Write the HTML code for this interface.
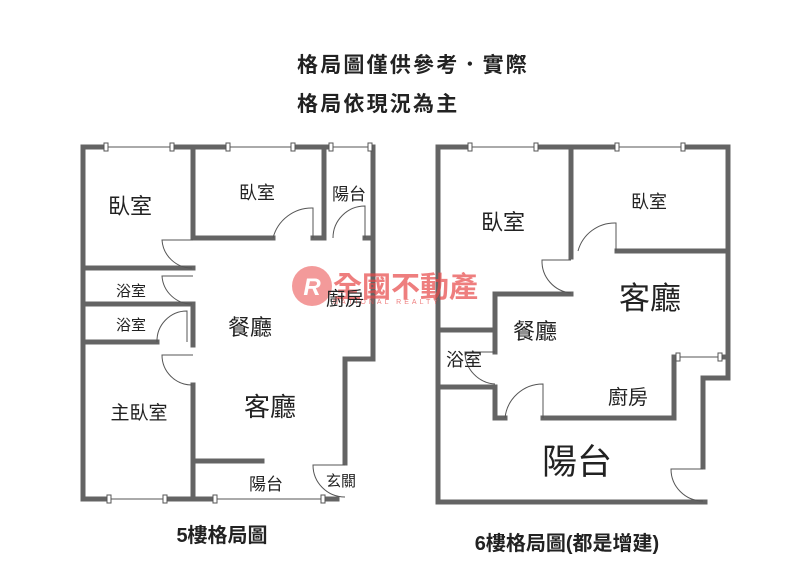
<!DOCTYPE html>
<html><head><meta charset="utf-8"><style>
html,body{margin:0;padding:0;background:#fff;width:797px;height:575px;overflow:hidden}
svg{display:block}
text{font-family:"Liberation Sans","Noto Sans CJK TC",sans-serif;fill:#222}
</style></head><body>
<svg width="797" height="575" viewBox="0 0 797 575" xmlns="http://www.w3.org/2000/svg">
<g font-weight="bold" font-size="21" fill="#222">
<text x="297" y="72" letter-spacing="2.2">格局圖僅供參考．實際</text>
<text x="297" y="111" letter-spacing="2.2">格局依現況為主</text>
<text x="222" y="542" text-anchor="middle" font-size="20">5樓格局圖</text>
<text x="567" y="550" text-anchor="middle" font-size="20">6樓格局圖(都是增建)</text>
</g>

<!-- LEFT PLAN -->
<g stroke="#646464" stroke-width="5" fill="none" stroke-linecap="square">
<polyline points="83,147 83,499 109,499"/>
<line x1="165" y1="499" x2="215" y2="499"/>
<line x1="323" y1="499" x2="337" y2="499"/>
<line x1="83" y1="147" x2="106" y2="147"/>
<line x1="172" y1="147" x2="228" y2="147"/>
<line x1="293" y1="147" x2="331" y2="147"/>
<polyline points="373,147 373,359 345,359 345,463"/>
<line x1="193" y1="147" x2="193" y2="238"/>
<line x1="193" y1="238" x2="273" y2="238"/>
<line x1="313" y1="238" x2="324" y2="238"/>
<line x1="324" y1="147" x2="324" y2="238"/>
<line x1="365" y1="238" x2="373" y2="238"/>
<line x1="83" y1="268" x2="193" y2="268"/>
<line x1="83" y1="304" x2="193" y2="304"/>
<line x1="193" y1="304" x2="193" y2="345"/>
<line x1="83" y1="342" x2="157" y2="342"/>
<line x1="193" y1="385" x2="193" y2="499"/>
<line x1="193" y1="461" x2="262" y2="461"/>
</g>
<g stroke="#555" stroke-width="1" fill="none">
<line x1="106" y1="147" x2="172" y2="147"/>
<line x1="228" y1="147" x2="293" y2="147"/>
<line x1="331" y1="147" x2="370" y2="147"/>
<line x1="109" y1="499" x2="165" y2="499"/>
<line x1="215" y1="499" x2="323" y2="499"/>
<path d="M273,238 A40,40 0 0 1 313,208 L313,238"/>
<path d="M333,238 A32,32 0 0 1 365,206 L365,238"/>
<path d="M193,240 L162,240 A30,30 0 0 0 192,268"/>
<path d="M193,276 L162,276 A30,30 0 0 0 192,304"/>
<path d="M157,342 A30,30 0 0 1 187,311 L187,342"/>
<path d="M193,355 L162,355 A30,30 0 0 0 192,385"/>
<path d="M345,465 L313,465 A32,32 0 0 0 345,497"/>
</g>
<g fill="#fff" stroke="#555" stroke-width="1">
<rect x="104" y="143" width="4" height="8"/><rect x="170" y="143" width="4" height="8"/>
<rect x="226" y="143" width="4" height="8"/><rect x="291" y="143" width="4" height="8"/>
<rect x="329" y="143" width="4" height="8"/><rect x="368" y="143" width="4" height="8"/>
<rect x="107" y="495" width="4" height="8"/><rect x="163" y="495" width="4" height="8"/>
<rect x="213" y="495" width="4" height="8"/><rect x="321" y="495" width="4" height="8"/>
</g>

<!-- RIGHT PLAN -->
<g stroke="#646464" stroke-width="5" fill="none" stroke-linecap="square">
<polyline points="438,147 438,502 705,502"/>
<line x1="438" y1="147" x2="470" y2="147"/>
<line x1="536" y1="147" x2="617" y2="147"/>
<polyline points="683,147 728,147 728,378 703,378 703,467"/>
<line x1="571" y1="147" x2="571" y2="257"/>
<line x1="571" y1="294" x2="495" y2="294"/>
<line x1="495" y1="294" x2="495" y2="352"/>
<line x1="438" y1="330" x2="495" y2="330"/>
<line x1="438" y1="387" x2="495" y2="387"/>
<line x1="495" y1="387" x2="495" y2="418"/>
<line x1="495" y1="418" x2="505" y2="418"/>
<polyline points="543,418 674,418 674,357 677,357"/>
<line x1="720" y1="357" x2="728" y2="357"/>
<line x1="617" y1="251" x2="728" y2="251"/>
</g>
<g stroke="#555" stroke-width="1" fill="none">
<line x1="470" y1="147" x2="536" y2="147"/>
<line x1="617" y1="147" x2="683" y2="147"/>
<line x1="677" y1="357" x2="720" y2="357"/>
<path d="M578,251 A38,38 0 0 1 616,223 L616,251"/>
<path d="M571,260 L542,260 A32,32 0 0 0 571,293"/>
<path d="M495,352 L465,352 A32,32 0 0 0 495,384"/>
<path d="M505,418 A38,38 0 0 1 543,384 L543,418"/>
<path d="M703,469 L671,469 A32,32 0 0 0 703,501"/>
</g>
<g fill="#fff" stroke="#555" stroke-width="1">
<rect x="468" y="143" width="4" height="8"/><rect x="534" y="143" width="4" height="8"/>
<rect x="615" y="143" width="4" height="8"/><rect x="681" y="143" width="4" height="8"/>
<rect x="676" y="353" width="4" height="8"/><rect x="718" y="353" width="4" height="8"/>
</g>

<!-- logo -->
<g opacity="0.7">
<circle cx="312" cy="286" r="20" fill="#ee7070"/>
<text x="312" y="295" text-anchor="middle" font-size="24" font-style="italic" font-weight="bold" style="fill:#fff">R</text>
<text x="333" y="297" font-size="29" font-weight="bold" style="fill:#e84848">全國不動產</text>
<text x="333" y="304" font-size="7" letter-spacing="3" style="fill:#e84848">NATIONAL REALTY</text>
</g>

<!-- labels -->
<g>
<text x="130" y="214" font-size="22" text-anchor="middle">臥室</text>
<text x="257" y="199" font-size="18" text-anchor="middle">臥室</text>
<text x="349" y="200" font-size="17" text-anchor="middle">陽台</text>
<text x="131" y="296" font-size="15" text-anchor="middle">浴室</text>
<text x="131" y="330" font-size="15" text-anchor="middle">浴室</text>
<text x="250" y="335" font-size="22" text-anchor="middle">餐廳</text>
<text x="345" y="305" font-size="19" text-anchor="middle">廚房</text>
<text x="270" y="416" font-size="26" text-anchor="middle">客廳</text>
<text x="139" y="419" font-size="19" text-anchor="middle">主臥室</text>
<text x="266" y="490" font-size="17" text-anchor="middle">陽台</text>
<text x="341" y="486" font-size="15" text-anchor="middle">玄關</text>

<text x="503" y="230" font-size="22" text-anchor="middle">臥室</text>
<text x="649" y="208" font-size="18" text-anchor="middle">臥室</text>
<text x="650" y="309" font-size="31" text-anchor="middle">客廳</text>
<text x="535" y="339" font-size="22" text-anchor="middle">餐廳</text>
<text x="464" y="366" font-size="18" text-anchor="middle">浴室</text>
<text x="628" y="404" font-size="20" text-anchor="middle">廚房</text>
<text x="577" y="474" font-size="35" text-anchor="middle">陽台</text>
</g>
</svg>
</body></html>
